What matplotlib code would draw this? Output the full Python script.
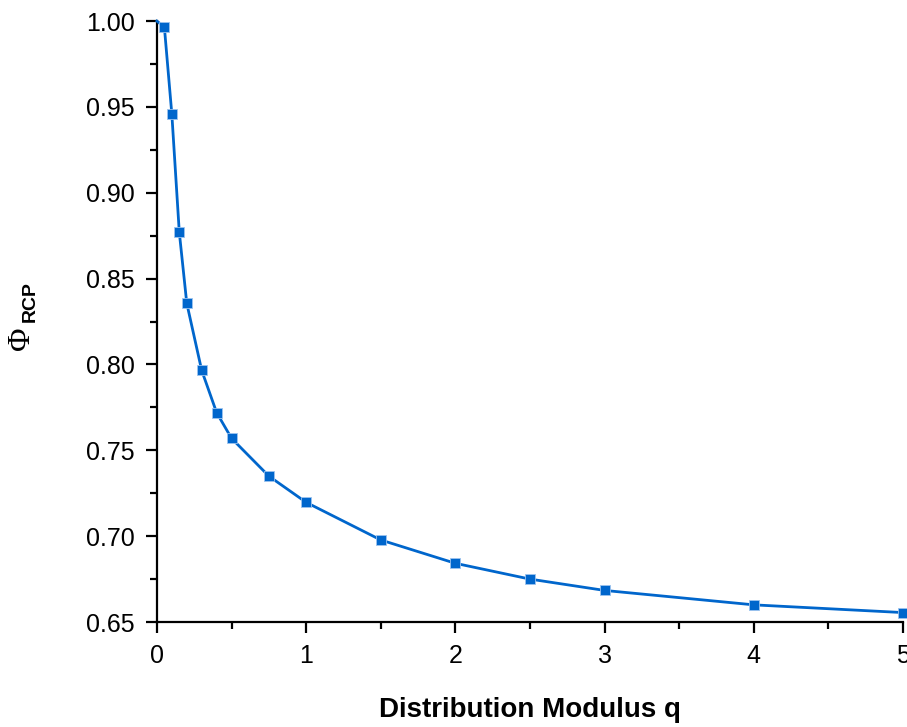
import matplotlib
matplotlib.use('Agg')
import matplotlib.pyplot as plt
from matplotlib.ticker import MultipleLocator, FormatStrFormatter

plt.rcParams['font.family'] = ['Liberation Sans', 'DejaVu Sans']

# line starts at the corner (q=0, phi=1), markers from q=0.05
q = [0.0, 0.05, 0.1, 0.15, 0.2, 0.3, 0.4, 0.5, 0.75, 1.0, 1.5, 2.0, 2.5, 3.0, 4.0, 5.0]
phi_rcp = [1.0, 0.9965, 0.9458, 0.877, 0.8357, 0.7966, 0.772, 0.757, 0.735,
           0.7197, 0.6978, 0.6842, 0.6750, 0.6684, 0.6600, 0.6555]

BLUE = '#0066CC'

fig = plt.figure(figsize=(9.07, 7.27), dpi=100)
ax = fig.add_axes([0.173, 0.1444, 0.8226, 0.8266])

ax.plot(q, phi_rcp, color=BLUE, lw=2, clip_on=False, zorder=3)
ax.plot(q[1:], phi_rcp[1:], ls='none', marker='s', ms=7, color=BLUE,
        markeredgecolor='#9cc3ef', markeredgewidth=0.6, clip_on=False, zorder=4)

ax.set_xlim(0, 5)
ax.set_ylim(0.65, 1.0)

ax.xaxis.set_major_locator(MultipleLocator(1))
ax.xaxis.set_minor_locator(MultipleLocator(0.5))
ax.yaxis.set_major_locator(MultipleLocator(0.05))
ax.yaxis.set_minor_locator(MultipleLocator(0.025))
ax.yaxis.set_major_formatter(FormatStrFormatter('%.2f'))

for side in ['top', 'right']:
    ax.spines[side].set_visible(False)
for side in ['left', 'bottom']:
    ax.spines[side].set_linewidth(1.6)

ax.tick_params(which='major', direction='out', length=8, width=1.6,
               labelsize=18, pad=8)
ax.tick_params(which='minor', direction='out', length=5, width=1.6)

ax.set_xlabel('Distribution Modulus q', fontsize=20, fontweight='bold', labelpad=21)

# y label: big Phi with bold RCP subscript
fig.text(21 / 907, 1 - 338 / 727, '\u03a6', rotation=90, fontsize=23,
         family='Liberation Serif', ha='center', va='center')
fig.text(30 / 907, 1 - 302 / 727, 'RCP', rotation=90, fontsize=14,
         fontweight='bold', ha='center', va='center')

fig.savefig('out.png', dpi=100)
